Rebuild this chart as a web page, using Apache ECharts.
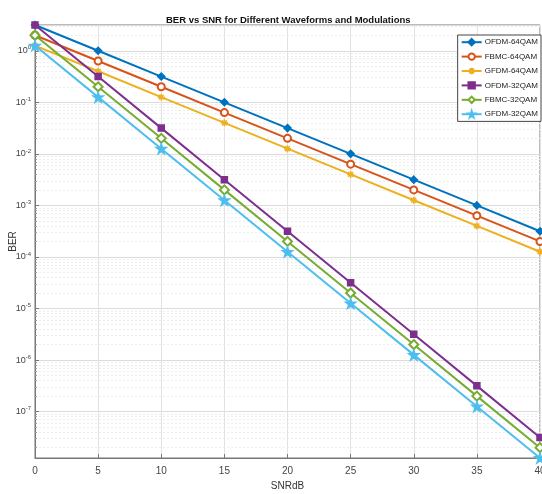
<!DOCTYPE html>
<html>
<head>
<meta charset="utf-8">
<script src="https://cdn.jsdelivr.net/npm/echarts@6/dist/echarts.min.js"></script>
<style>
  html, body { margin: 0; padding: 0; background: #fff; }
  #chart { width: 542px; height: 494px; }
</style>
</head>
<body>
<div id="chart"></div>
<script>
  var FONT = "'Liberation Sans Narrow', 'Liberation Sans', Arial, sans-serif";

  var snr = [0, 5, 10, 15, 20, 25, 30, 35, 40];
  var ofdm64 = [3.16, 1.0, 0.316, 0.1, 0.0316, 0.01, 0.00316, 0.001, 0.000316];
  var fbmc64 = [2.0, 0.632, 0.2, 0.0632, 0.02, 0.00632, 0.002, 0.000632, 0.0002];
  var gfdm64 = [1.26, 0.4, 0.126, 0.04, 0.0126, 0.004, 0.00126, 0.0004, 0.000126];
  var ofdm32 = [3.16, 0.316, 0.0316, 3.16e-3, 3.16e-4, 3.16e-5, 3.16e-6, 3.16e-7, 3.16e-8];
  var fbmc32 = [2.0, 0.2, 0.02, 2e-3, 2e-4, 2e-5, 2e-6, 2e-7, 2e-8];
  var gfdm32 = [1.26, 0.126, 0.0126, 1.26e-3, 1.26e-4, 1.26e-5, 1.26e-6, 1.26e-7, 1.26e-8];

  var yMin = 1.26e-8;
  var yMax = 3.16;

  var ASTERISK = "path://M5,0L5,10M0,5L10,5M1.5,1.5L8.5,8.5M8.5,1.5L1.5,8.5";
  var STAR = "path://M50,0L61,35L98,35L68,57L79,91L50,70L21,91L32,57L2,35L39,35Z";

  function pairs(ys) {
    return ys.map(function (y, i) { return [snr[i], y]; });
  }

  function line(name, ys, color, symbol, size) {
    return {
      name: name,
      type: "line",
      data: pairs(ys),
      symbol: symbol,
      symbolSize: size,
      showAllSymbol: true,
      lineStyle: { color: color, width: 2, type: "solid" },
      itemStyle: { color: color, borderColor: color, borderWidth: 1.5 },
      z: 3
    };
  }

  var chart = echarts.init(document.getElementById("chart"));

  chart.setOption({
    animation: false,
    backgroundColor: "#fff",
    textStyle: { fontFamily: FONT },
    title: {
      text: "BER vs SNR for Different Waveforms and Modulations",
      left: 161,
      top: 10,
      textStyle: { fontFamily: FONT, fontSize: 9.5, fontWeight: "bold", color: "#111" }
    },
    grid: { left: 35, right: 2, top: 25, bottom: 36, show: true, borderColor: "#777", borderWidth: 1, outerBoundsMode: "none" },
    legend: {
      orient: "vertical",
      right: 1,
      top: 35,
      itemWidth: 20,
      itemHeight: 8,
      itemGap: 6,
      padding: [3, 3, 3, 3],
      backgroundColor: "#fff",
      borderColor: "#444",
      borderWidth: 1,
      textStyle: { fontFamily: FONT, fontSize: 8, color: "#222", padding: [0, 0, 0, -2] },
      data: ["OFDM-64QAM", "FBMC-64QAM", "GFDM-64QAM", "OFDM-32QAM", "FBMC-32QAM", "GFDM-32QAM"]
    },
    xAxis: {
      type: "value",
      min: 0,
      max: 40,
      interval: 5,
      name: "SNRdB",
      nameLocation: "middle",
      nameGap: 20,
      nameTextStyle: { fontFamily: FONT, fontSize: 10, color: "#333" },
      axisLine: { show: true, lineStyle: { color: "#777" } },
      axisTick: { inside: true, length: 4, lineStyle: { color: "#777" } },
      axisLabel: { fontFamily: FONT, fontSize: 10, color: "#444", margin: 8 },
      splitLine: { show: true, lineStyle: { color: "#e2e2e2", width: 1 } }
    },
    yAxis: {
      type: "log",
      logBase: 10,
      min: yMin,
      max: yMax,
      splitNumber: 9,
      name: "BER",
      nameLocation: "middle",
      nameGap: 17,
      nameMoveOverlap: false,
      nameTextStyle: { fontFamily: FONT, fontSize: 10, color: "#333" },
      axisLine: { show: true, lineStyle: { color: "#777" } },
      axisTick: { inside: true, length: 4, lineStyle: { color: "#777" } },
      minorTick: { show: true, splitNumber: 9, length: 2, lineStyle: { color: "#999" } },
      minorSplitLine: { show: true, lineStyle: { color: "#eeeeee", type: [2, 2], width: 1 } },
      axisLabel: {
        fontFamily: FONT,
        fontSize: 9,
        color: "#444",
        margin: 4,
        showMinLabel: false,
        showMaxLabel: false,
        formatter: function (v) {
          var e = Math.log10(v);
          if (Math.abs(e - Math.round(e)) > 1e-6) return "";
          return "10{s|" + Math.round(e) + "}";
        },
        rich: { s: { fontSize: 6, verticalAlign: "top", padding: [0, 0, 6, 0], fontFamily: FONT, color: "#444" } }
      },
      splitLine: { show: true, lineStyle: { color: "#dcdcdc", width: 1 } }
    },
    series: [
      line("OFDM-64QAM", ofdm64, "#0072BD", "diamond", 7),
      line("FBMC-64QAM", fbmc64, "#D95319", "emptyCircle", 7),
      line("GFDM-64QAM", gfdm64, "#EDB120", ASTERISK, 7),
      line("OFDM-32QAM", ofdm32, "#7E2F8E", "rect", 6),
      line("FBMC-32QAM", fbmc32, "#77AC30", "emptyDiamond", 9),
      line("GFDM-32QAM", gfdm32, "#4DBEEE", STAR, 10)
    ]
  });
</script>
</body>
</html>
